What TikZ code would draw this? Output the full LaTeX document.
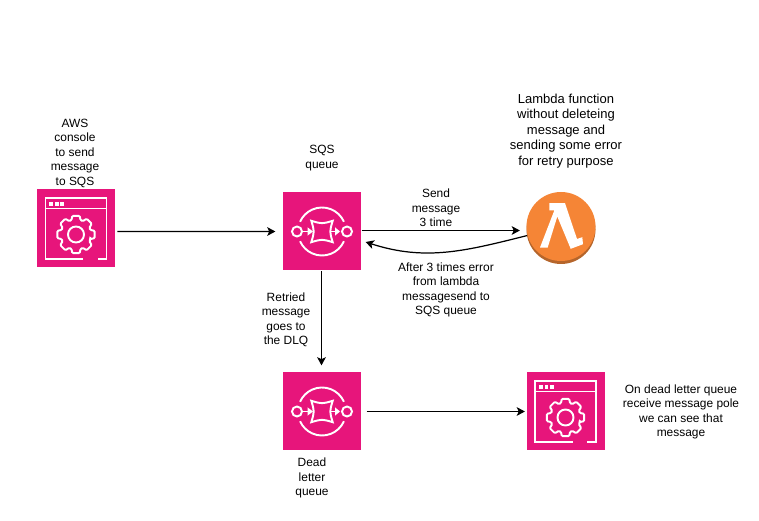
\documentclass[tikz,border=0pt]{standalone}
\usepackage{fontspec}
\setmainfont{Liberation Sans}
\usetikzlibrary{arrows.meta}
\definecolor{awspink}{HTML}{E7157B}
\definecolor{awsorange}{HTML}{F58536}
\definecolor{awsshade}{HTML}{B5652B}
\tikzstyle{tile}=[fill=awspink,inner sep=0pt,minimum size=1.56cm]
\tikzstyle{caption}=[align=center,inner sep=0pt,font=\fontsize{6.8}{8.25}\selectfont]
\tikzstyle{glyph}=[draw=white,line width=1.1pt]
\tikzset{
	consolewin/.pic={
		\begin{scope}[scale=0.02]
			\draw [glyph] (7,-30.5) -- (-30.5,-30.5) -- (-30.5,30.5) -- (30.5,30.5) -- (30.5,-30.5) -- (21.7,-30.5);
			\draw [glyph] (-30.5,20) -- (30.5,20);
			\foreach \dotx in {-24.7,-19,-13.7}
				\fill [white] (\dotx-1.8,22.8) rectangle (\dotx+1.8,26.2);
			\draw [glyph,rounded corners=0.6pt,shift={(0,-6)}] (-18:15)
				\foreach \tooth in {0,45,...,315} { -- (\tooth-18:15) -- (\tooth-11:19) -- (\tooth+11:19) -- (\tooth+18:15) } -- cycle;
			\draw [glyph] (0,-6) circle (8);
		\end{scope}
	},
	queueicon/.pic={
		\begin{scope}[scale=0.02]
			\draw [glyph] (24:24) arc (24:156:24);
			\draw [glyph] (-24:24) arc (-24:-156:24);
			\draw [glyph] (-25,0) circle (5);
			\draw [glyph] (25,0) circle (5);
			\draw [glyph] (-10.7,10.7) .. controls (0,7.5) .. (10.7,10.7) .. controls (7.5,0) .. (10.7,-10.7)
				.. controls (0,-7.5) .. (-10.7,-10.7) .. controls (-7.5,0) .. (-10.7,10.7) -- cycle;
			\draw [glyph] (-19,0) -- (-14,0);
			\fill [white] (-14.5,4.2) -- (-9,0) -- (-14.5,-4.2) -- cycle;
			\draw [glyph] (9,0) -- (14,0);
			\fill [white] (13,4.2) -- (18,0) -- (13,-4.2) -- cycle;
		\end{scope}
	},
	lambdamark/.pic={
		\begin{scope}[scale=0.02]
			\fill [white] (-11.7,23.3) -- (4,23.3) -- (16,-12.5) -- (21.3,-10.7) -- (22,-17.7)
				-- (9.7,-22.3) -- (-3.7,10) -- (-13.3,-21) -- (-21,-21) -- (-6.7,16) -- (-11.7,16) -- cycle;
		\end{scope}
	}
}

\begin{document}
\begin{tikzpicture}[>={Stealth[length=4.7pt,width=5pt,inset=1.2pt]},line width=0.7pt]%

	\useasboundingbox (0,0) rectangle (15.18,10.42);

	\draw  (1.52,5.85)   node (Console) [tile]  {};
	\draw  (6.44,5.79)   node (Sqs)     [tile]  {};
	\draw  (6.44,2.19)   node (Dead)    [tile]  {};
	\draw  (11.31,2.19)  node (Viewer)  [tile]  {};

	\fill [awsshade] (11.22,5.83) circle (0.69);
	\draw  (11.22,5.89)  node (Lambda) [circle,fill=awsorange,inner sep=0pt,minimum size=1.38cm] {};

	\pic at (Console) {consolewin};
	\pic at (Viewer)  {consolewin};
	\pic at (Sqs)     {queueicon};
	\pic at (Dead)    {queueicon};
	\pic at (Lambda)  {lambdamark};

	\draw [->,shorten <=1pt,shorten >=0.14cm] ([yshift=-0.06cm]Console.east) -- (Sqs.west);
	\draw [->,shorten >=0.12cm] ([yshift=0.02cm]Sqs.east) -- ([yshift=0.02cm]Lambda.west |- Sqs.east);
	\draw [->] (Lambda.195) to [out=-166,in=-18] ([shift={(0.08,-0.21)}]Sqs.east);
	\draw [->,shorten >=0.13cm] ([xshift=-0.01cm]Sqs.south) -- ([xshift=-0.01cm]Dead.north);
	\draw [->,shorten <=0.1cm,shorten >=0.02cm] (Dead.east) -- (Viewer.west);

	\draw  (1.5,7.36)   node (ConsoleText) [caption] {AWS\\console\\to send\\message\\to SQS};
	\draw  (6.44,7.26)  node (SqsText)     [caption] {SQS\\queue};
	\draw  (8.72,6.26)  node (SendText)    [caption] {Send\\message\\3 time};
	\draw  (11.32,7.8)  node (LambdaText)  [caption,font=\fontsize{7.4}{8.9}\selectfont] {Lambda function\\without deleteing\\message and\\sending some error\\for retry purpose};
	\draw  (8.92,4.62)  node (AfterText)   [caption] {After 3 times error\\from lambda\\messagesend to\\SQS queue};
	\draw  (5.72,4.02)  node (RetryText)   [caption] {Retried\\message\\goes to\\the DLQ};
	\draw  (6.24,0.86)  node (DeadText)    [caption] {Dead\\letter\\queue};
	\draw  (13.62,2.18) node (ViewerText)  [caption] {On dead letter queue\\receive message pole\\we can see that\\message};

\end{tikzpicture}
\end{document}
